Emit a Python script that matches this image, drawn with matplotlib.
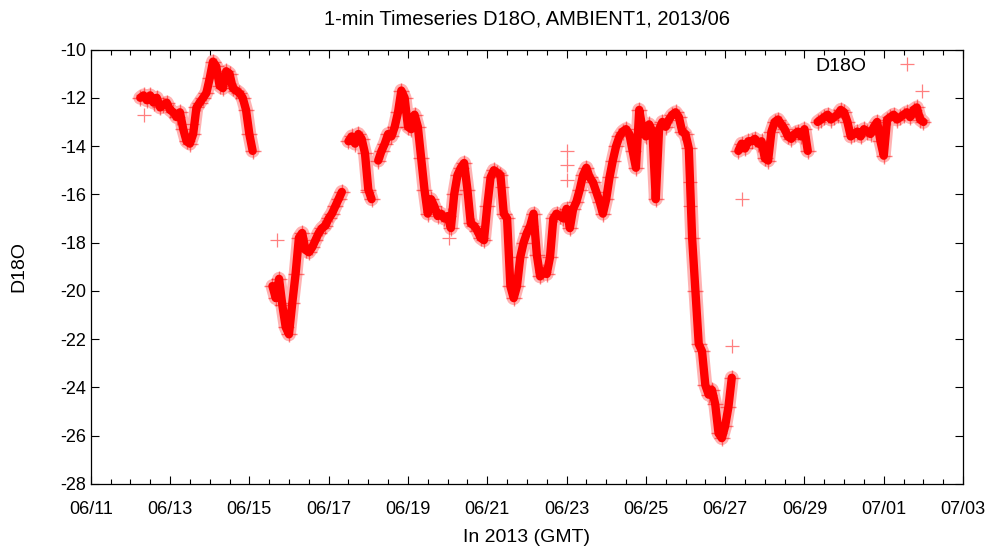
# 1-min Zeitreihe D18O, AMBIENT1, Juni 2013 (nachgezeichnet)

import numpy as np
import pandas as pd
import matplotlib
matplotlib.use("Agg")
import matplotlib.pyplot as plt
import matplotlib.dates as mdates

# Werte alle 2 Stunden (nan = keine Daten)
start_1 = "2013-06-12 06:00"
d18o_1 = [-12.0, -11.9, -12.1, -11.9, -12.2, -12.0, -12.4, -12.3, -12.2,
          -12.5, -12.6, -12.8, -12.6, -13.3, -13.8, -13.9, -13.5, -12.4,
          -12.2, -12.0, -11.8, -11.2, -10.5, -10.7, -11.5, -11.6, -10.9,
          -11.0, -11.6, -11.7, -11.8, -12.0, -12.5, -13.5, -14.2]

start_2 = "2013-06-15 14:00"
d18o_2 = [-19.8, -20.3, -19.5, -20.6, -21.5, -21.8, -20.5, -19.3, -17.8,
          -17.6, -18.3, -18.4, -18.2, -17.9, -17.6, -17.4, -17.3, -17.0,
          -16.8, -16.5, -16.2, -15.9]

start_3 = "2013-06-17 12:00"
d18o_3 = [-13.8, -13.6, -13.9, -13.5, -13.7, -14.3, -15.8, -16.2, np.nan,
          -14.6, -14.2, -13.9, -13.5, -13.6, -13.2, -12.6, -11.7, -12.0,
          -13.2, -13.3, -12.7, -13.2, -14.5, -15.8, -16.8, -16.2, -16.5,
          -16.9, -16.8, -17.0, -16.9, -17.4, -16.0, -15.2, -14.9, -14.7,
          -15.8, -17.2, -17.3, -17.5, -17.8, -17.9, -16.5, -15.3, -15.0,
          -15.1, -15.2, -16.8, -17.0, -19.8, -20.3, -19.8, -18.6, -18.0,
          -17.6, -17.3, -16.8, -18.5, -19.4, -19.2, -19.3, -18.6, -17.0,
          -16.8, -16.9, -17.0, -16.6, -17.4, -16.6, -16.3, -15.8, -15.2,
          -14.9, -15.3, -15.5, -15.9, -16.3, -16.8, -16.2, -15.3, -14.6,
          -14.0, -13.6, -13.4, -13.3, -13.5, -14.2, -14.9, -12.5, -13.3,
          -13.6, -13.1, -13.4, -16.2, -13.3, -13.0, -13.2, -12.9, -12.7,
          -12.6, -12.8, -13.4, -13.5, -14.1, -17.8, -20.0, -22.2, -22.5,
          -23.9, -24.3, -24.1, -24.7, -25.9, -26.1, -25.6, -24.8, -23.6,
          np.nan, -14.2, -13.9, -14.1, -13.8, -13.8, -13.7, -13.9, -13.8,
          -14.5, -14.6, -13.4, -13.0, -12.9, -13.1, -13.3, -13.6, -13.7,
          -13.5, -13.4, -13.6, -13.3, -14.2, np.nan, np.nan, -13.0, -12.9,
          -12.8, -12.7, -12.9, -12.8, -12.7, -12.5, -12.6, -13.0, -13.6,
          -13.5, -13.4, -13.6, -13.3, -13.4, -13.5, -13.2, -13.0, -13.8,
          -14.4, -12.9, -12.8, -12.7, -12.9, -12.8, -12.7, -12.6, -12.8,
          -12.5, -12.4, -12.9, -13.0]

# Einzelne Ausreisser und Spitzen
ausreisser_zeit = ["2013-06-12 08:00", "2013-06-15 16:50", "2013-06-27 04:20",
                   "2013-06-27 10:20", "2013-07-01 23:20", "2013-06-23 00:00",
                   "2013-06-23 00:00", "2013-06-23 00:00", "2013-06-26 03:00",
                   "2013-06-26 03:00", "2013-06-13 13:00", "2013-06-17 23:00",
                   "2013-06-21 09:00", "2013-06-20 01:00"]
ausreisser_wert = [-12.7, -17.9, -22.3, -16.2, -11.7, -14.2, -14.8, -15.4,
                   -15.5, -16.5, -13.1, -15.9, -15.7, -17.8]

# Zeitachsen bauen
zeit_1 = pd.date_range(start_1, periods=len(d18o_1), freq="2h")
zeit_2 = pd.date_range(start_2, periods=len(d18o_2), freq="2h")
zeit_3 = pd.date_range(start_3, periods=len(d18o_3), freq="2h")
zeit_a = pd.to_datetime(ausreisser_zeit)

plt.rcParams["font.family"] = ["Liberation Sans", "DejaVu Sans"]
plt.rcParams["axes.unicode_minus"] = False

fig = plt.figure(figsize=(9.98, 5.59), dpi=100)
ax = fig.add_axes([0.0909, 0.1342, 0.8741, 0.7772])

# dichtes Band der 1-min Werte: breiter blasser Rand, roter Kern, Kreuze
for z, w in [(zeit_1, d18o_1), (zeit_2, d18o_2), (zeit_3, d18o_3)]:
    ax.plot(z, w, color="red", linewidth=10, alpha=0.3,
            solid_capstyle="round", solid_joinstyle="round")
    ax.plot(z, w, color="red", linewidth=6, solid_capstyle="round",
            solid_joinstyle="round")
    ax.plot(z, w, linestyle="none", marker="+", markersize=12,
            markeredgewidth=1.0, color="red", alpha=0.5)
ax.plot(zeit_a, ausreisser_wert, linestyle="none", marker="+", markersize=10,
        markeredgewidth=0.9, color="red", alpha=0.5)

# Legende
ax.plot([], [], linestyle="none", marker="+", markersize=10,
        markeredgewidth=0.9, color="red", alpha=0.5, label="D18O")

ax.set_xlim(pd.Timestamp("2013-06-11"), pd.Timestamp("2013-07-03"))
ax.set_ylim(-28, -10)
ax.set_yticks(range(-28, -9, 2))
ax.xaxis.set_major_locator(mdates.DayLocator(interval=2))
ax.xaxis.set_minor_locator(mdates.HourLocator(byhour=[0, 12]))
ax.xaxis.set_major_formatter(mdates.DateFormatter("%m/%d"))

ax.tick_params(which="both", direction="in", top=True, right=True,
               labelsize=13)
ax.tick_params(axis="x", pad=12)
ax.tick_params(axis="y", pad=3)
ax.tick_params(which="major", length=6, width=0.8)
ax.tick_params(which="minor", length=3.5, width=0.8)
for s in ax.spines.values():
    s.set_linewidth(0.9)

ax.set_title("1-min Timeseries D18O, AMBIENT1, 2013/06", fontsize=14.5, pad=18)
ax.set_xlabel("In 2013 (GMT)", fontsize=14)
ax.set_ylabel("D18O", fontsize=14)
ax.xaxis.set_label_coords(0.5, -0.104)
ax.yaxis.set_label_coords(-0.073, 0.5)

ax.legend(loc="upper right", bbox_to_anchor=(0.967, 1.0), borderaxespad=0,
          frameon=False, markerfirst=False, fontsize=14, handlelength=2,
          handletextpad=1.1)

fig.savefig("out.png", dpi=100)
